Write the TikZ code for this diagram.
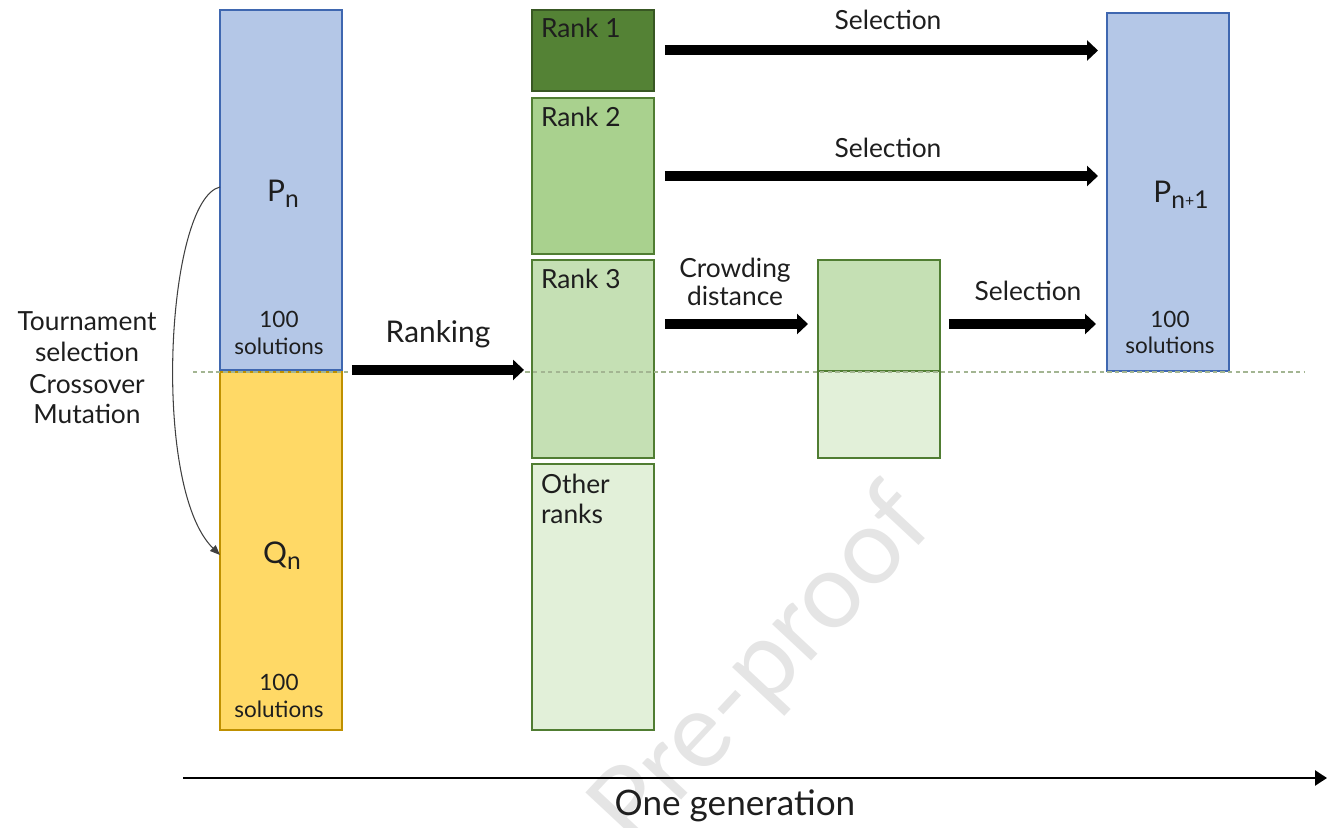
\documentclass[tikz,border=0pt]{standalone}
\usepackage{fontspec}
\setmainfont{Lato}
\usetikzlibrary{arrows.meta,calc}
\definecolor{pblue}{HTML}{B4C7E7}
\definecolor{pblueline}{HTML}{3F67B0}
\definecolor{qyellow}{HTML}{FFD966}
\definecolor{qyellowline}{HTML}{BF9000}
\definecolor{gdark}{HTML}{548235}
\definecolor{gdarkline}{HTML}{385723}
\definecolor{gline}{HTML}{507D32}
\definecolor{gmid}{HTML}{A9D18E}
\definecolor{glight}{HTML}{C5E0B4}
\definecolor{gpale}{HTML}{E2F0D9}
\definecolor{dashcol}{HTML}{A3B592}
\definecolor{txt}{HTML}{1E1E1E}
\definecolor{curvecol}{HTML}{404040}
\begin{document}
\begin{tikzpicture}[x=0.02cm,y=-0.02cm,
  box/.style={draw, line width=0.9pt, inner sep=0pt, outer sep=0pt, anchor=north west, minimum width=2.44cm},
  lbl/.style={inner sep=0pt, outer sep=0pt, anchor=base, text=txt, font=\fontsize{15}{18}\selectfont},
  rlbl/.style={lbl, anchor=base west},
  small/.style={lbl, font=\fontsize{12.8}{14}\selectfont},
  big/.style={lbl, font=\fontsize{17}{20}\selectfont},
  bigarrow/.style={line width=0.2cm, -{Triangle[length=0.22cm,width=0.4cm]}},
  timearrow/.style={line width=1.4pt, -{Triangle[length=0.24cm,width=0.3cm]}},
]
\useasboundingbox (0,0) rectangle (1340,828);

% watermark
\node[rotate=47, text=black!10, inner sep=0pt, font=\fontsize{60}{60}\selectfont] (wm) at (764,669) {Pre-proof};

% boxes
\node[box, fill=pblue, draw=pblueline, minimum height=7.2cm] (pn) at (220,10) {};
\node[box, fill=qyellow, draw=qyellowline, minimum height=7.16cm] (qn) at (220,372) {};
\node[box, fill=gdark, draw=gdarkline, minimum height=1.62cm] (rank1) at (532,10) {};
\node[box, fill=gmid, draw=gline, minimum height=3.12cm] (rank2) at (532,98) {};
\node[box, fill=glight, draw=gline, minimum height=3.96cm] (rank3) at (532,260) {};
\node[box, fill=gpale, draw=gline, minimum height=5.32cm] (other) at (532,464) {};
\node[box, fill=glight, draw=gline, minimum height=2.22cm] (crowdtop) at (818,260) {};
\node[box, fill=gpale, draw=gline, minimum height=1.74cm] (crowdbot) at (818,371) {};
\node[box, fill=pblue, draw=pblueline, minimum height=7.16cm] (pn1) at (1107,13) {};

% dashed separator
\coordinate (dl) at (193,372);
\coordinate (dr) at (1305,372);
\draw[dashcol, line width=0.6pt, dash pattern=on 2.5pt off 1.8pt] (dl) -- (dr);

% box texts
\node[big] (pnl) at (283,202) {P\raisebox{-0.12cm}{\fontsize{14}{14}\selectfont n}};
\node[small] (pna) at (279,327) {100};
\node[small] (pnb) at (279,354) {solutions};
\node[big] (qnl) at (282,563) {Q\raisebox{-0.12cm}{\fontsize{14}{14}\selectfont n}};
\node[small] (qna) at (279,690) {100};
\node[small] (qnb) at (279,717) {solutions};
\node[big] (pn1l) at (1181,203) {P\raisebox{-0.12cm}{\fontsize{14}{14}\selectfont n\raisebox{0.05cm}{\fontsize{9}{9}\selectfont +}1}};
\node[small] (pn1a) at (1170,327) {100};
\node[small] (pn1b) at (1170,353) {solutions};

\node[rlbl] (r1l) at (541,38) {Rank 1};
\node[rlbl] (r2l) at (541,127) {Rank 2};
\node[rlbl] (r3l) at (541,288) {Rank 3};
\node[rlbl] (ol1) at (541,493) {Other};
\node[rlbl] (ol2) at (541,523) {ranks};

% arrow labels
\node[lbl] (s1) at (888,30) {Selection};
\node[lbl] (s2) at (888,158) {Selection};
\node[lbl] (s3) at (1028,300) {Selection};
\node[lbl] (cd1) at (735,277) {Crowding};
\node[lbl] (cd2) at (735,305) {distance};
\node[big] (rk) at (438,342) {Ranking};

% left operators text
\node[lbl] (t1) at (87,330) {Tournament};
\node[lbl] (t2) at (87,361) {selection};
\node[lbl] (t3) at (87,393) {Crossover};
\node[lbl] (t4) at (87,423) {Mutation};

% thick arrows
\draw[bigarrow, shorten <=0.2cm, shorten >=0.16cm] (pn.south east) -- (pn.south east -| rank3.west);
\draw[bigarrow, shorten <=0.22cm, shorten >=0.18cm] (rank1.east) -- (rank1.east -| pn1.west);
\draw[bigarrow, shorten <=0.22cm, shorten >=0.18cm] (rank2.east) -- (rank2.east -| pn1.west);
\coordinate (cy) at (0,324);
\draw[bigarrow, shorten <=0.22cm, shorten >=0.2cm] (rank3.east |- cy) -- (crowdtop.west |- cy);
\draw[bigarrow, shorten <=0.18cm, shorten >=0.22cm] (crowdtop.east |- cy) -- (pn1.west |- cy);

% curved arrow
\draw[curvecol, line width=0.6pt, -{Triangle[length=0.2cm,width=0.16cm]}] ([yshift=0.06cm]pn.west) .. controls +(-54,13) and +(-69,-67) .. ([yshift=-0.08cm]qn.west);

% time axis
\coordinate (ta) at (183,778);
\coordinate (tb) at (1327,778);
\draw[timearrow] (ta) -- (tb);
\node[lbl, font=\fontsize{20}{23}\selectfont] (gen) at (735,815) {One generation};
\end{tikzpicture}
\end{document}
